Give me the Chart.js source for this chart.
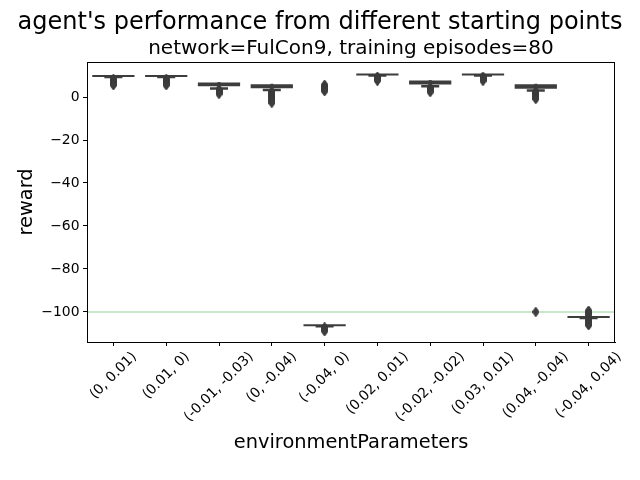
<!DOCTYPE html>
<html>
<head>
<meta charset="utf-8">
<script src="https://cdn.jsdelivr.net/npm/chart.js@4"></script>
<style>
  html, body { margin: 0; padding: 0; background: #fff; }
  #wrap { width: 640px; height: 480px; }
</style>
</head>
<body>
<div id="wrap"><canvas id="boxes" width="640" height="480"></canvas></div>
<script>
const categories = ["(0, 0.01)", "(0.01, 0)", "(-0.01, -0.03)", "(0, -0.04)", "(-0.04, 0)",
    "(0.02, 0.01)", "(-0.02, -0.02)", "(0.03, 0.01)", "(0.04, -0.04)", "(-0.04, 0.04)"];
const boxLow = [9.3, 9.3, 5.0, 4.1, -106.7, 10.0, 5.8, 10.0, 3.9, -102.8];
const boxHigh = [10.1, 10.1, 6.8, 6.0, -105.7, 10.8, 7.7, 10.8, 6.0, -101.9];
const whiskerLow = [9.3, 9.3, 4.0, 3.3, -106.7, 10.0, 5.0, 10.0, 3.0, -102.8];
const whiskerHigh = [10.1, 10.1, 6.8, 6.0, -105.7, 10.8, 7.7, 10.8, 6.0, -101.9];
const outliers = [
    [8.5, 8.0, 7.5, 7.0, 6.5, 6.0, 5.5],
    [8.5, 8.0, 7.5, 7.0, 6.5, 6.0, 5.5],
    [3.5, 3.0, 2.5, 2.0, 1.5],
    [2.5, 2.0, 1.5, 1.0, 0.5, 0.0, -0.5, -1.0, -1.5, -2.0, -2.7],
    [5.7, 5.2, 4.7, 4.2, 3.7, 3.2, 2.7, -107.2, -107.8, -108.4, -109.0],
    [9.5, 9.0, 8.5, 8.0, 7.6],
    [4.4, 3.9, 3.4, 2.9, 2.3],
    [9.5, 9.0, 8.5, 8.0, 7.6],
    [2.6, 2.1, 1.6, 1.1, 0.6, 0.1, -0.4, -0.9, -100],
    [-99.4, -99.9, -100.4, -100.9, -101.4, -103.3, -103.8, -104.3, -104.8, -105.3, -105.8, -106.2],
];
const yTicks = [0, -20, -40, -60, -80, -100];
const yMin = -114, yMax = 16.3;
const refLevel = -100;

const DARK = "#3d3d3d";
const FONT = "DejaVu Sans";

// thin diamond marker like matplotlib's "d"
const diamond = document.createElement("canvas");
diamond.width = 7; diamond.height = 10;
(function () {
    const c = diamond.getContext("2d");
    c.fillStyle = DARK;
    c.strokeStyle = DARK;
    c.lineWidth = 0.8;
    c.beginPath();
    c.moveTo(3.5, 0); c.lineTo(7, 5); c.lineTo(3.5, 10); c.lineTo(0, 5);
    c.closePath();
    c.fill();
    c.stroke();
})();

const flierPoints = [];
outliers.forEach((list, i) => list.forEach(v => flierPoints.push({ x: categories[i], y: v })));
// only the lower caps show below the boxes; upper caps sit inside them
const capPoints = categories.map((c, i) => ({ x: c, y: whiskerLow[i] }));

const decor = {
    id: "decor",
    beforeDatasetsDraw(chart) {
        const { ctx, chartArea: a, scales: { y } } = chart;
        const yy = y.getPixelForValue(refLevel);
        ctx.save();
        ctx.strokeStyle = "rgba(0,128,0,0.2)";
        ctx.lineWidth = 2;
        ctx.beginPath();
        ctx.moveTo(a.left, yy);
        ctx.lineTo(a.right, yy);
        ctx.stroke();
        ctx.restore();
    },
    afterDraw(chart) {
        const { ctx, chartArea: a, scales: { x } } = chart;
        ctx.save();
        ctx.strokeStyle = "#000";
        ctx.lineWidth = 1;
        ctx.strokeRect(a.left + 0.5, a.top + 0.5, a.right - a.left - 1, a.bottom - a.top);

        // rotated x tick labels, centred under each tick (matplotlib style)
        ctx.fillStyle = "#000";
        ctx.font = "13.9px '" + FONT + "'";
        ctx.textAlign = "center";
        ctx.textBaseline = "middle";
        categories.forEach((label, i) => {
            const px = x.getPixelForTick(i);
            const w = ctx.measureText(label).width;
            const cy = a.bottom + 7 + (w + 16) * Math.SQRT1_2 / 2;
            ctx.save();
            ctx.translate(px, cy);
            ctx.rotate(-Math.PI / 4);
            ctx.fillText(label, 0, 0);
            ctx.restore();
        });

        const midX = (a.left + a.right) / 2;
        ctx.textBaseline = "alphabetic";
        ctx.font = "19.4px '" + FONT + "'";
        ctx.fillText("environmentParameters", midX, 448);
        ctx.save();
        ctx.translate(32, (a.top + a.bottom) / 2);
        ctx.rotate(-Math.PI / 2);
        ctx.fillText("reward", 0, 0);
        ctx.restore();

        ctx.font = "20px '" + FONT + "'";
        ctx.fillText("network=FulCon9, training episodes=80", midX, 54);
        ctx.font = "24px '" + FONT + "'";
        ctx.fillText("agent's performance from different starting points", 320, 29);
        ctx.restore();
    }
};

new Chart(document.getElementById("boxes"), {
    type: "bar",
    data: {
        labels: categories,
        datasets: [
            {
                type: "scatter",
                data: flierPoints,
                pointStyle: diamond,
                pointRadius: 4,
                pointHoverRadius: 4,
            },
            {
                type: "scatter",
                data: capPoints,
                pointStyle: "line",
                pointRadius: 9,
                borderColor: DARK,
                borderWidth: 2.5,
            },
            {
                data: categories.map((c, i) => [boxLow[i], boxHigh[i]]),
                backgroundColor: DARK,
                borderColor: DARK,
                borderWidth: 0,
                barPercentage: 0.8,
                categoryPercentage: 1,
                minBarLength: 2,
                grouped: false,
            },
            {
                data: categories.map((c, i) => [whiskerLow[i], whiskerHigh[i]]),
                backgroundColor: DARK,
                borderWidth: 0,
                barThickness: 2.5,
                grouped: false,
            },
        ]
    },
    options: {
        responsive: false,
        animation: false,
        layout: { padding: { left: 0, top: 62, right: 25, bottom: 0 } },
        scales: {
            x: {
                type: "category",
                offset: true,
                grid: { display: true, offset: false, drawOnChartArea: false, drawTicks: true, tickLength: 4, color: "#000", tickColor: "#000" },
                border: { color: "#000", width: 1 },
                ticks: { display: false },
                afterFit: (s) => { s.height = 138; },
            },
            y: {
                min: yMin,
                max: yMax,
                grid: { display: true, drawOnChartArea: false, drawTicks: true, tickLength: 4, color: "#000", tickColor: "#000" },
                border: { color: "#000", width: 1 },
                afterBuildTicks: (s) => { s.ticks = yTicks.map(v => ({ value: v })); },
                ticks: {
                    padding: 3.5,
                    color: "#000",
                    font: { family: FONT, size: 13.9 },
                    callback: (v) => String(v).replace("-", "\u2212"),
                },
                afterFit: (s) => { s.width = 87; },
            },
        },
        plugins: {
            legend: { display: false },
            tooltip: { enabled: false },
        }
    },
    plugins: [decor]
});
</script>
</body>
</html>
